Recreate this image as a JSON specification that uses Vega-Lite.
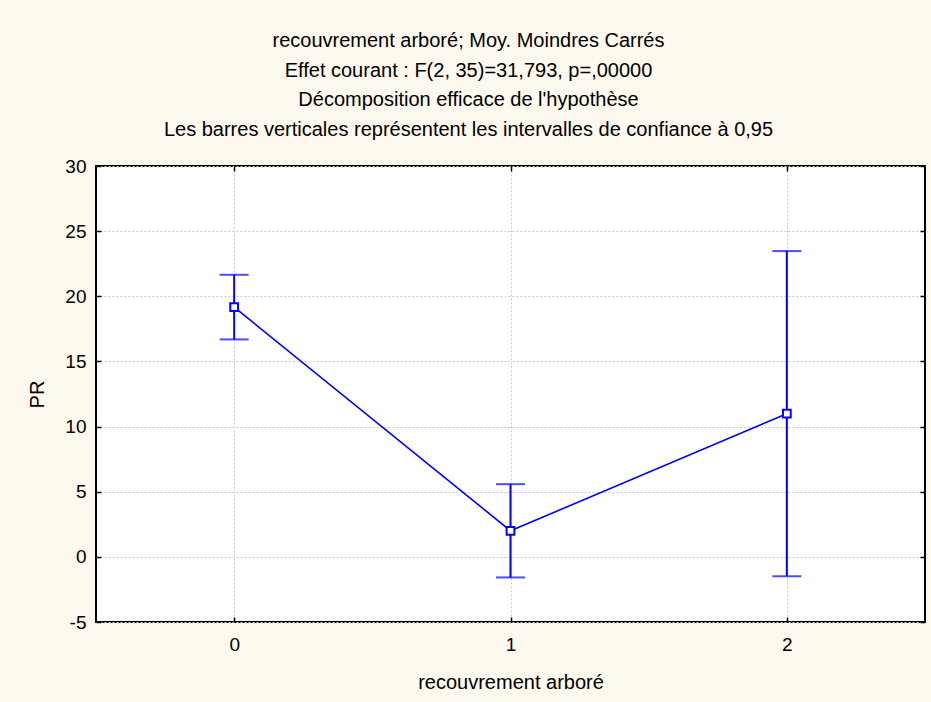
{
  "$schema": "https://vega.github.io/schema/vega-lite/v6.json",
  "width": 829,
  "height": 456,
  "autosize": {"type": "none"},
  "padding": {"left": 96, "top": 166, "right": 6, "bottom": 80},
  "background": "#FEF9EE",
  "title": {
    "text": [
      "recouvrement arboré; Moy. Moindres Carrés",
      "Effet courant : F(2, 35)=31,793, p=,00000",
      "Décomposition efficace de l'hypothèse",
      "Les barres verticales représentent les intervalles de confiance à 0,95"
    ],
    "font": "Liberation Sans",
    "fontSize": 20,
    "fontWeight": "normal",
    "color": "black",
    "lineHeight": 29.7,
    "anchor": "middle",
    "dx": -42,
    "offset": 17
  },
  "config": {
    "view": {"fill": "white", "stroke": "black", "strokeWidth": 2},
    "axis": {
      "labelFont": "Liberation Sans",
      "labelFontSize": 19,
      "labelColor": "black",
      "titleFont": "Liberation Sans",
      "titleFontSize": 20,
      "titleFontWeight": "normal",
      "titleColor": "black",
      "gridColor": "#C8C8C8",
      "gridDash": [2, 2],
      "gridWidth": 1,
      "domain": false,
      "tickColor": "black",
      "tickSize": -5,
      "tickWidth": 1.5
    }
  },
  "data": {
    "values": [
      {"x": 0, "mean": 19.17, "lower": 16.69, "upper": 21.65},
      {"x": 1, "mean": 2.0, "lower": -1.58, "upper": 5.58},
      {"x": 2, "mean": 10.99, "lower": -1.49, "upper": 23.47}
    ]
  },
  "resolve": {"axis": {"x": "independent", "y": "independent"}},
  "layer": [
    {
      "mark": {"type": "line", "color": "#0000FF", "strokeWidth": 1.6},
      "encoding": {
        "x": {
          "field": "x", "type": "quantitative",
          "scale": {"domain": [-0.5, 2.5], "nice": false, "zero": false},
          "axis": {"values": [0, 1, 2], "labelExpr": "'' + datum.value", "title": "recouvrement arboré", "labelPadding": 18, "titlePadding": 18, "grid": true}
        },
        "y": {
          "field": "mean", "type": "quantitative",
          "scale": {"domain": [-5, 30], "nice": false, "zero": false},
          "axis": {"values": [-5, 0, 5, 10, 15, 20, 25, 30], "labelExpr": "'' + datum.value", "title": "PR", "labelPadding": 15, "titlePadding": 17, "grid": true}
        }
      }
    },
    {
      "mark": {
        "type": "errorbar",
        "color": "#0000FF",
        "thickness": 2,
        "ticks": {"size": 29, "color": "#0000FF"}
      },
      "encoding": {
        "x": {"field": "x", "type": "quantitative", "axis": null},
        "y": {"field": "lower", "type": "quantitative", "axis": null},
        "y2": {"field": "upper"}
      }
    },
    {
      "mark": {"type": "point", "shape": "square", "filled": true, "fill": "white", "stroke": "#0000FF", "strokeWidth": 2, "size": 60, "opacity": 1},
      "encoding": {
        "x": {"field": "x", "type": "quantitative", "axis": null},
        "y": {"field": "mean", "type": "quantitative", "axis": null}
      }
    },
    {
      "mark": {"type": "point", "opacity": 0},
      "encoding": {
        "x": {"field": "x", "type": "quantitative", "axis": {"orient": "top", "values": [0, 1, 2], "labels": false, "title": null, "grid": false}},
        "y": {"field": "mean", "type": "quantitative", "axis": {"orient": "right", "values": [-5, 0, 5, 10, 15, 20, 25, 30], "labels": false, "title": null, "grid": false}}
      }
    }
  ]
}
